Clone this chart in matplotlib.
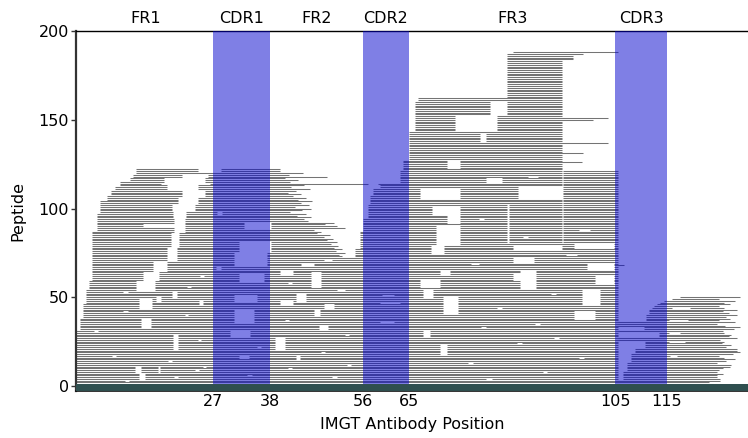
import matplotlib
matplotlib.use("Agg")
import matplotlib.pyplot as plt
from matplotlib.transforms import blended_transform_factory

# ---------------------------------------------------------------- data
region_names = ["FR1", "CDR1", "FR2", "CDR2", "FR3", "CDR3"]
region_edges = [1, 27, 38, 56, 65, 105, 115]
cdr_spans = [(27, 38), (56, 65), (105, 115)]
xtick_positions = [27, 38, 56, 65, 105, 115]
ytick_positions = [0, 50, 100, 150, 200]

# peptide coverage, stacked rows: (first row, last row, start, end)
lower_fill = [
    (0, 31, 0.5, 105.5),
    (32, 38, 1.2, 105.5),
    (39, 46, 1.8, 105.5),
    (47, 54, 2.3, 105.5),
    (55, 59, 3.0, 105.5),
    (60, 72, 3.5, 105.5),
    (68, 68, 3.5, 106.6),
]

# N-terminal cluster above row 72: start per band, end per row (rows 73..122)
nterm_start = [
    (73, 87, 3.5), (88, 97, 4.5), (98, 104, 5.1), (105, 107, 6.5),
    (108, 110, 7.2), (111, 112, 8.0), (113, 115, 9.0), (116, 117, 11.0),
    (118, 119, 11.5), (120, 122, 12.0),
]
nterm_end = [
    52.0, 51.5, 52.5, 50.8, 52.0, 50.5, 51.2, 49.8, 51.0, 49.0,
    50.2, 48.5, 49.6, 47.2, 48.0, 46.5, 52.5, 51.0, 48.8, 50.5,
    45.5, 44.6, 46.0, 43.2, 45.0, 42.0, 44.2, 46.0, 42.8, 45.6,
    44.0, 46.2, 43.5, 45.0, 42.6, 44.0, 41.5, 43.0, 45.8, 42.2,
    44.6, 57.0, 42.0, 43.5, 41.0, 49.0, 41.8, 44.4, 40.0, 40.0,
]

# CDR2 / FR3 cluster
mid_fill = [
    (73, 77, 54.5, 105.5), (78, 87, 55.5, 105.5), (88, 94, 56.0, 105.5),
    (95, 102, 57.0, 105.5), (103, 107, 57.5, 105.5), (108, 111, 58.0, 105.5),
    (112, 113, 59.4, 105.5), (114, 114, 59.0, 105.5), (115, 121, 63.2, 105.5),
    (122, 127, 63.8, 94.6), (128, 137, 65.0, 94.6),
    (138, 142, 65.0, 78.8), (138, 142, 80.0, 94.6), (143, 143, 65.0, 94.6),
    (144, 152, 66.2, 74.0), (144, 152, 82.0, 94.6),
    (153, 160, 66.2, 80.7), (153, 160, 84.0, 94.6),
    (161, 162, 66.7, 94.6), (163, 183, 84.0, 94.6),
    (184, 186, 84.0, 96.7), (187, 187, 84.0, 98.7), (188, 188, 85.2, 105.5),
    (150, 150, 82.0, 100.7), (151, 151, 82.0, 103.6),
    (137, 137, 65.0, 103.6), (131, 131, 65.0, 98.7), (126, 126, 63.8, 98.5),
]

# C-terminal cluster (rows 0..50): start per band, end per row
cterm_start = [
    (0, 36, 105.5), (37, 40, 111.0), (41, 43, 111.5), (44, 44, 112.0),
    (45, 45, 112.5), (46, 46, 113.0), (47, 47, 113.7), (48, 48, 114.5),
    (49, 49, 116.0), (50, 50, 117.5),
]
cterm_end = [
    122.7, 124.0, 123.2, 125.3, 125.3, 124.6, 124.6, 125.9, 124.6, 125.0,
    125.9, 127.2, 127.5, 124.6, 126.4, 128.2, 126.0, 125.0, 127.7, 129.2,
    128.5, 128.5, 126.5, 127.5, 125.6, 126.0, 125.3, 128.5, 127.0, 127.5,
    126.1, 125.9, 128.0, 129.2, 126.3, 124.6, 128.2, 125.0, 127.2, 126.5,
    128.5, 127.0, 125.9, 128.5, 126.0, 125.0, 127.2, 126.0, 128.2, 125.0,
    129.2,
]

# uncovered stretches: (first row, last row, start, end)
fr1_gaps = [
    (4, 7, 12.6, 13.8), (8, 11, 11.9, 13.0), (21, 29, 19.3, 20.3),
    (33, 38, 13.0, 15.0), (42, 42, 9.5, 10.5), (44, 49, 12.7, 15.2),
    (48, 50, 16.0, 17.0), (50, 53, 19.0, 20.0), (46, 48, 24.3, 25.0),
    (53, 53, 9.5, 10.5), (54, 59, 12.0, 15.8), (60, 64, 13.5, 16.5),
    (65, 70, 15.3, 18.0), (71, 78, 18.0, 20.0), (79, 86, 18.8, 20.4),
    (87, 89, 19.5, 21.5), (90, 91, 13.5, 21.5), (92, 94, 19.5, 21.5),
    (95, 98, 19.3, 21.8), (99, 102, 19.0, 23.5), (103, 106, 20.3, 24.0),
    (107, 110, 21.0, 25.5), (111, 113, 18.0, 24.0), (114, 114, 17.0, 26.5),
    (115, 117, 17.5, 25.5), (118, 119, 21.0, 26.0), (121, 122, 24.0, 28.5),
    (3, 3, 10.0, 10.7), (5, 5, 19.5, 20.2), (8, 11, 16.4, 16.8),
    (9, 9, 23.5, 24.2), (11, 11, 25.0, 25.6), (14, 14, 18.3, 19.0),
    (17, 17, 7.5, 8.2), (26, 26, 24.0, 24.6), (31, 31, 4.0, 4.8),
    (40, 40, 21.5, 22.2), (56, 56, 22.0, 22.8), (62, 62, 24.5, 25.2),
]
cdr1_gaps = [
    (89, 92, 33.0, 38.3), (76, 81, 32.0, 38.2), (68, 75, 31.0, 37.5),
    (59, 63, 32.0, 36.8), (48, 51, 31.0, 35.6), (36, 43, 31.0, 35.0),
    (28, 31, 30.3, 34.2), (16, 17, 32.0, 34.0), (97, 98, 27.8, 28.8),
    (66, 67, 27.5, 28.5), (6, 6, 33.5, 34.5), (22, 22, 35.5, 36.3),
]
fr2_gaps = [
    (63, 65, 40.0, 42.5), (56, 64, 46.0, 48.0), (46, 48, 40.0, 42.5),
    (48, 52, 43.0, 45.0), (40, 43, 46.5, 47.8), (44, 46, 48.5, 50.5),
    (32, 34, 47.5, 49.3), (21, 27, 39.0, 41.0), (15, 17, 43.0, 43.8),
    (5, 5, 50.0, 51.0), (10, 10, 41.5, 42.3), (12, 12, 53.0, 53.8),
    (19, 19, 48.0, 48.8), (29, 29, 52.5, 53.3), (37, 37, 41.0, 41.8),
    (54, 54, 51.0, 52.5), (58, 58, 41.5, 42.3), (68, 69, 44.0, 46.5),
    (71, 71, 48.5, 50.0),
]
cdr2_gaps = [(47, 47, 59.4, 63.2), (36, 36, 59.4, 62.0), (51, 51, 59.8, 62.0)]
fr3_gaps = [
    (123, 127, 72.4, 74.9), (106, 111, 67.1, 74.9), (97, 101, 69.5, 74.9),
    (92, 96, 72.4, 74.9), (80, 90, 70.2, 74.9), (75, 79, 69.3, 71.8),
    (106, 112, 86.2, 94.7), (77, 79, 85.2, 94.7), (70, 72, 85.2, 89.2),
    (60, 63, 85.2, 89.0), (41, 50, 71.5, 74.4), (56, 60, 67.1, 71.0),
    (50, 54, 67.7, 69.7), (63, 65, 71.0, 73.0), (18, 23, 71.0, 72.4),
    (28, 31, 67.7, 69.0), (78, 80, 97.0, 104.8), (66, 69, 99.5, 104.8),
    (58, 62, 101.0, 104.8), (46, 54, 98.5, 102.0), (38, 42, 97.0, 101.0),
    (55, 65, 86.5, 89.7), (81, 121, 94.65, 94.9), (81, 102, 84.05, 84.3),
    (4, 4, 80.0, 81.0), (8, 8, 91.0, 91.8), (13, 13, 76.5, 77.3),
    (16, 16, 98.0, 99.0), (24, 24, 86.0, 86.8), (27, 27, 93.0, 94.0),
    (33, 33, 79.0, 80.0), (35, 35, 89.5, 90.3), (44, 44, 82.0, 83.0),
    (52, 52, 92.5, 93.5), (69, 69, 77.0, 78.5), (74, 74, 95.5, 97.5),
    (84, 84, 87.0, 88.0), (88, 88, 98.0, 100.0), (94, 94, 78.5, 79.5),
    (115, 117, 80.0, 83.0), (118, 118, 88.0, 90.0),
]
cdr3_gaps = [
    (4, 8, 105.5, 106.4), (9, 13, 105.5, 107.2), (14, 18, 105.5, 108.0),
    (19, 21, 105.5, 108.8), (22, 25, 105.5, 110.8), (28, 30, 105.5, 113.5),
    (32, 33, 105.5, 110.5), (37, 37, 115.3, 119.0), (30, 30, 115.3, 117.5),
    (25, 25, 115.3, 118.5), (17, 17, 115.5, 117.0), (44, 44, 116.0, 119.5),
]

# ---------------------------------------------------------------- rows
n_rows = 189
fills = {r: [] for r in range(n_rows)}
for lo, hi, s, e in lower_fill + mid_fill:
    for r in range(lo, hi + 1):
        fills[r].append((s, e))
for lo, hi, s in nterm_start:
    for r in range(lo, hi + 1):
        fills[r].append((s, nterm_end[r - 73]))
for lo, hi, s in cterm_start:
    for r in range(lo, hi + 1):
        fills[r].append((s, cterm_end[r]))

gaps = {r: [] for r in range(n_rows)}
for lo, hi, s, e in fr1_gaps + cdr1_gaps + fr2_gaps + cdr2_gaps + fr3_gaps + cdr3_gaps:
    for r in range(lo, hi + 1):
        gaps[r].append((s, e))


def row_segments(ivals, holes):
    ivals = sorted(ivals)
    merged = []
    for s, e in ivals:
        if merged and s <= merged[-1][1]:
            merged[-1][1] = max(merged[-1][1], e)
        else:
            merged.append([s, e])
    for hs, he in holes:
        out = []
        for s, e in merged:
            if he <= s or hs >= e:
                out.append([s, e])
                continue
            if hs > s:
                out.append([s, hs])
            if he < e:
                out.append([he, e])
        merged = out
    return merged


ys, x0s, x1s = [], [], []
for r in range(n_rows):
    for s, e in row_segments(fills[r], gaps[r]):
        ys.append(r)
        x0s.append(s)
        x1s.append(e)

# ---------------------------------------------------------------- figure
plt.rcParams["font.family"] = "DejaVu Sans"
fig = plt.figure(figsize=(7.48, 4.38), dpi=100)
ax = fig.add_axes([76 / 748, 47 / 438, 672 / 748, 360 / 438])

ax.hlines(ys, x0s, x1s, colors="#747474", linewidth=0.75, zorder=2,
          capstyle="butt")

for a, b in cdr_spans:
    ax.axvspan(a, b, color="mediumblue", alpha=0.5, lw=0, zorder=3)

ax.axhspan(-2.8, 1.1, color="#2f4f4f", lw=0, zorder=4)

ax.set_xlim(0.44, 130.7)
ax.set_ylim(-2.8, 200)

ax.set_xticks(xtick_positions)
ax.set_xticklabels([str(t) for t in xtick_positions], fontsize=11.5)
ax.set_yticks(ytick_positions)
ax.set_yticklabels([str(t) for t in ytick_positions], fontsize=11.5)
ax.tick_params(axis="x", length=0, pad=2)
ax.tick_params(axis="y", length=3.5, width=1, pad=1.5, color="#333333")

ax.spines["right"].set_visible(False)
ax.spines["top"].set_linewidth(1.0)
ax.spines["left"].set_linewidth(1.6)
ax.spines["left"].set_color("#333333")
ax.spines["bottom"].set_linewidth(1.2)
ax.spines["bottom"].set_color("#111111")

ax.set_xlabel("IMGT Antibody Position", fontsize=11.5)
ax.set_ylabel("Peptide", fontsize=11.5)
ax.xaxis.set_label_coords(0.5, -0.072)
ax.yaxis.set_label_coords(-0.075, 0.5)

trans = blended_transform_factory(ax.transData, ax.transAxes)
for name, a, b in zip(region_names, region_edges[:-1], region_edges[1:]):
    ax.text((a + b) / 2, 1.0214, name, transform=trans, ha="center",
            va="baseline", fontsize=11.5)

fig.savefig("out.png", dpi=100)
